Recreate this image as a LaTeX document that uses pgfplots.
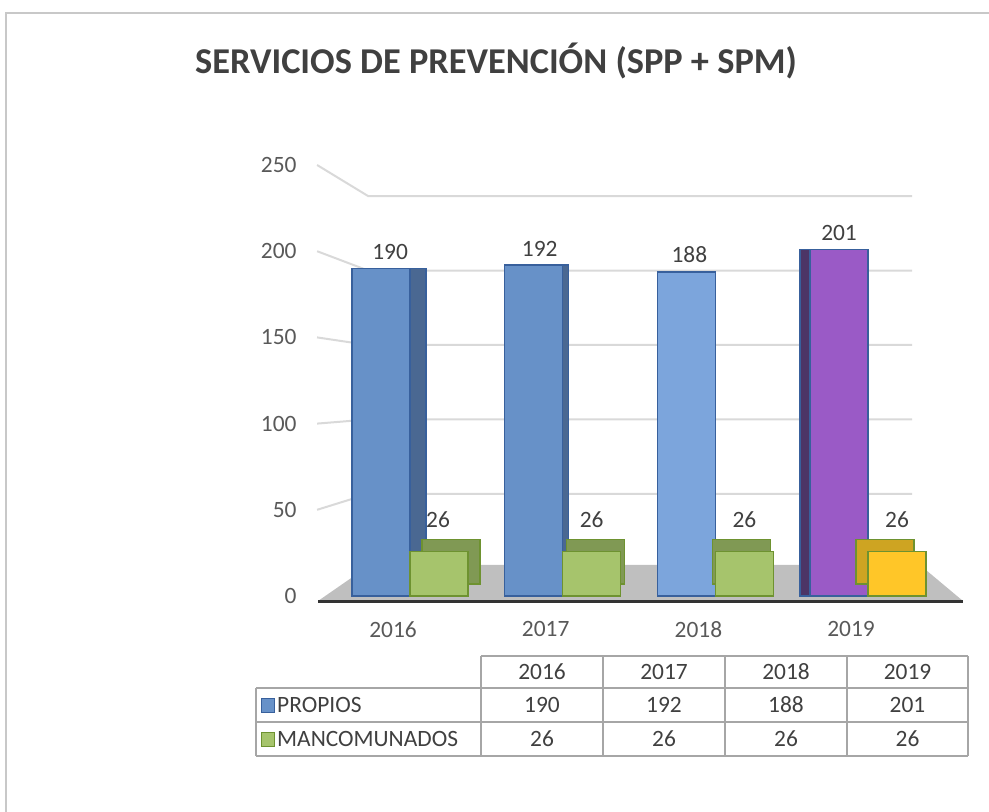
\documentclass[border=0pt]{standalone}
\usepackage{fontspec}
\setmainfont{Carlito}
\usepackage{pgfplots}
\pgfplotsset{compat=1.18}

\definecolor{txt}{RGB}{64,64,64}
\definecolor{ticktxt}{RGB}{89,89,89}
\definecolor{gridc}{RGB}{217,217,217}
\definecolor{floorc}{RGB}{191,191,191}
\definecolor{tabline}{RGB}{166,166,166}
\definecolor{framec}{RGB}{200,200,200}
\definecolor{bluef}{RGB}{103,145,200}
\definecolor{bluel}{RGB}{124,165,220}
\definecolor{blueb}{RGB}{74,104,146}
\definecolor{bluee}{RGB}{56,96,156}
\definecolor{greenf}{RGB}{166,196,108}
\definecolor{greenb}{RGB}{128,153,84}
\definecolor{greene}{RGB}{110,146,48}
\definecolor{purf}{RGB}{154,90,198}
\definecolor{purb}{RGB}{76,53,102}
\definecolor{goldf}{RGB}{255,198,40}
\definecolor{goldb}{RGB}{206,164,34}

\newcommand\lblfont{\fontsize{23.5}{27}\selectfont}

\pgfplotsset{
  box/.style={ybar, bar width=58bp, line width=1.3bp},
  propio/.style={box, bar shift=-29bp},
  mancom/.style={box, bar shift=29bp},
  lbl/.style={nodes near coords,
    every node near coord/.append style={font=\lblfont, text=txt, #1}},
}

\begin{document}
\begin{tikzpicture}
\path[use as bounding box] (0,0) rectangle (989bp,-812bp);
\draw[framec, line width=1.5bp] (6bp,-812bp) -- (6bp,-13bp) -- (989bp,-13bp);

\node[font=\fontsize{36.5}{42}\selectfont\bfseries, text=txt] at (496bp,-61bp)
  {SERVICIOS DE PREVENCIÓN (SPP + SPM)};

\begin{axis}[
  at={(318bp,-596bp)}, anchor=south west,
  scale only axis, width=645bp, height=431bp,
  xmin=-0.603, xmax=3.622, ymin=0, ymax=250,
  clip=false,
  axis line style={draw=none},
  tick style={draw=none},
  ytick={0,50,...,250},
  xtick={0,1,2,3}, xticklabels={2016,2017,2018,2019},
  tick label style={font=\lblfont, text=ticktxt},
  yticklabel style={xshift=-18bp},
  xticklabel style={xshift=-17bp, yshift=-22bp},
  /pgf/number format/assume math mode=true,
]
% floor and back-wall grid
\fill[floorc] (axis cs:-0.603,-2.9) -- (axis cs:3.622,-2.9)
  -- (axis cs:3.34,18) -- (axis cs:-0.262,18) -- cycle;
\draw[black!80, line width=3bp] (axis cs:-0.603,-2.9) -- (axis cs:3.622,-2.9);
\draw[gridc, line width=2bp] (axis cs:-0.609,50) -- (axis cs:-0.275,59.2) -- (axis cs:3.288,59.2);
\draw[gridc, line width=2bp] (axis cs:-0.609,100) -- (axis cs:-0.275,102.4) -- (axis cs:3.288,102.4);
\draw[gridc, line width=2bp] (axis cs:-0.609,150) -- (axis cs:-0.275,145.6) -- (axis cs:3.288,145.6);
\draw[gridc, line width=2bp] (axis cs:-0.609,200) -- (axis cs:-0.275,188.8) -- (axis cs:3.288,188.8);
\draw[gridc, line width=2bp] (axis cs:-0.609,250) -- (axis cs:-0.275,232) -- (axis cs:3.288,232);

% 2016
\addplot[propio, fill=blueb, draw=bluee, xshift=16bp] coordinates {(0,190)};
\addplot[propio, fill=bluef, draw=bluee, lbl={xshift=-20bp, yshift=5bp}] coordinates {(0,190)};
\addplot[mancom, fill=greenb, draw=greene, xshift=12bp, yshift=12bp] coordinates {(0,26)};
\addplot[mancom, fill=greenf, draw=greene, lbl={xshift=28bp, yshift=20bp}] coordinates {(0,26)};
% 2017
\addplot[propio, fill=blueb, draw=bluee, xshift=6bp] coordinates {(1,192)};
\addplot[propio, fill=bluef, draw=bluee, lbl={xshift=-23bp, yshift=5bp}] coordinates {(1,192)};
\addplot[mancom, fill=greenb, draw=greene, xshift=4bp, yshift=12bp] coordinates {(1,26)};
\addplot[mancom, fill=greenf, draw=greene, lbl={xshift=29bp, yshift=20bp}] coordinates {(1,26)};
% 2018
\addplot[propio, fill=bluel, draw=bluee, lbl={xshift=-26bp, yshift=5bp}] coordinates {(2,188)};
\addplot[mancom, fill=greenb, draw=greene, xshift=-3bp, yshift=12bp] coordinates {(2,26)};
\addplot[mancom, fill=greenf, draw=greene, lbl={xshift=29bp, yshift=20bp}] coordinates {(2,26)};
% 2019
\addplot[propio, fill=purb, draw=bluee, xshift=-10bp] coordinates {(3,201)};
\addplot[propio, fill=purf, draw=bluee, lbl={xshift=-29bp, yshift=5bp}] coordinates {(3,201)};
\addplot[mancom, fill=goldb, draw=greene, xshift=-12bp, yshift=12bp] coordinates {(3,26)};
\addplot[mancom, fill=goldf, draw=greene, lbl={xshift=29bp, yshift=20bp}] coordinates {(3,26)};
\end{axis}

% data table
\begin{scope}[tabline, line width=1.3bp]
\draw (481bp,-656bp) -- (968bp,-656bp);
\draw (256bp,-688bp) -- (968bp,-688bp);
\draw (256bp,-722bp) -- (968bp,-722bp);
\draw (256bp,-756bp) -- (968bp,-756bp);
\draw (256bp,-688bp) -- (256bp,-756bp);
\foreach \x in {481,603,725,847,968} \draw (\x bp,-656bp) -- (\x bp,-756bp);
\end{scope}
\begin{scope}[every node/.style={font=\lblfont, text=txt}]
\foreach \x/\yr in {542/2016,664/2017,786/2018,907.5/2019}
  \node at (\x bp,-672bp) {\yr};
\foreach \x/\v in {542/190,664/192,786/188,907.5/201}
  \node at (\x bp,-705bp) {\v};
\foreach \x/\v in {542/26,664/26,786/26,907.5/26}
  \node at (\x bp,-739bp) {\v};
\fill[bluef, draw=bluee, line width=1bp] (261bp,-698bp) rectangle (274bp,-712bp);
\fill[greenf, draw=greene, line width=1bp] (261bp,-732bp) rectangle (274bp,-746bp);
\node[anchor=west, inner sep=0pt] at (277bp,-705bp) {PROPIOS};
\node[anchor=west, inner sep=0pt] at (277bp,-739bp) {MANCOMUNADOS};
\end{scope}
\end{tikzpicture}
\end{document}
